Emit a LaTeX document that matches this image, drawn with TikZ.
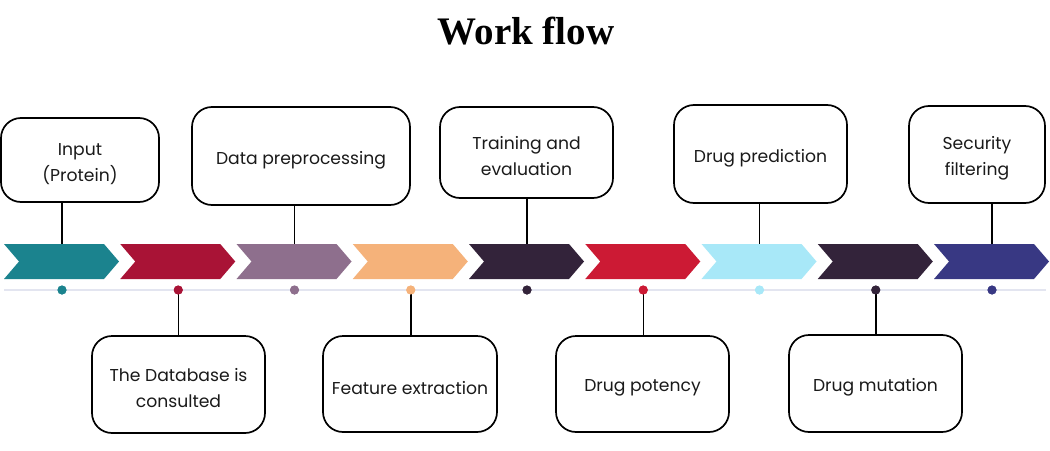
\documentclass[tikz,border=0pt]{standalone}
\usepackage{fontspec}
\setmainfont{Poppins}
\newfontfamily\titlefont{Liberation Serif}
\definecolor{cA}{HTML}{1B838E}
\definecolor{cB}{HTML}{A91336}
\definecolor{cC}{HTML}{8E6F8D}
\definecolor{cD}{HTML}{F5B27A}
\definecolor{cE}{HTML}{33233A}
\definecolor{cF}{HTML}{CC1A34}
\definecolor{cG}{HTML}{A8E8F8}
\definecolor{cH}{HTML}{33233A}
\definecolor{cI}{HTML}{383883}
\definecolor{lineC}{HTML}{E3E5F0}
\definecolor{txt}{HTML}{1A1A1A}
\begin{document}
\begin{tikzpicture}[x=1pt,y=-1pt,
  stepbox/.style={draw=black,line width=1.7pt,rounded corners=20pt,inner sep=0pt},
  steptext/.style={align=center,text=txt,font=\fontsize{17.2}{26}\selectfont,inner sep=0pt,yshift=-4pt},
  link/.style={draw=black,line width=1.5pt},
  dotnode/.style={circle,inner sep=0pt,minimum size=9pt}]
\useasboundingbox (0,0) rectangle (1050,450);
\fill[white] (0,0) rectangle (1050,450);
% title
\node[font=\titlefont\bfseries\fontsize{39}{44}\selectfont,anchor=base] (title) at (526,44) {Work flow};
% timeline
\coordinate (tl0) at (4,290);
\coordinate (tl1) at (1046,290);
\draw[lineC,line width=2pt] (tl0) -- (tl1);
% chevrons and dots
\foreach \c [count=\i from 0] in {cA,cB,cC,cD,cE,cF,cG,cH,cI}{
  \pgfmathsetmacro{\xo}{4+116.25*\i}
  \fill[\c] (\xo,244) -- ++(100,0) -- ++(15,17.5) -- ++(-15,17.5) -- ++(-100,0) -- ++(15,-17.5) -- cycle;
  \coordinate (ct\i) at (\xo+58,244);
  \node[dotnode,fill=\c] (dot\i) at (\xo+58,290) {};
}
% top boxes
\node[stepbox,minimum width=158pt,minimum height=84pt] (bA) at (80,160) {};
\node[stepbox,minimum width=218pt,minimum height=98pt] (bC) at (301,156) {};
\node[stepbox,minimum width=173pt,minimum height=91pt] (bE) at (526.5,152.5) {};
\node[stepbox,minimum width=173pt,minimum height=98pt] (bG) at (760.5,154) {};
\node[stepbox,minimum width=136pt,minimum height=97pt] (bI) at (977,154.5) {};
% bottom boxes
\node[stepbox,minimum width=173pt,minimum height=97pt] (bB) at (178.5,384.5) {};
\node[stepbox,minimum width=174pt,minimum height=96pt] (bD) at (410,384) {};
\node[stepbox,minimum width=173pt,minimum height=96pt] (bF) at (642.5,384) {};
\node[stepbox,minimum width=173pt,minimum height=97pt] (bH) at (875.5,383.5) {};
% texts
\node[steptext] (tA) at (bA.center) {Input\\(Protein)};
\node[steptext] (tC) at (bC.center) {Data preprocessing};
\node[steptext] (tE) at (bE.center) {Training and\\evaluation};
\node[steptext] (tG) at (bG.center) {Drug prediction};
\node[steptext] (tI) at (bI.center) {Security\\filtering};
\node[steptext] (tB) at (bB.center) {The Database is\\consulted};
\node[steptext] (tD) at (bD.center) {Feature extraction};
\node[steptext] (tF) at (bF.center) {Drug potency};
\node[steptext] (tH) at (bH.center) {Drug mutation};
% connectors
\draw[link] (bA.south -| ct0) -- (ct0);
\draw[link] (bC.south -| ct2) -- (ct2);
\draw[link] (bE.south -| ct4) -- (ct4);
\draw[link] (bG.south -| ct6) -- (ct6);
\draw[link] (bI.south -| ct8) -- (ct8);
\draw[link] (dot1.center) -- (bB.north -| dot1);
\draw[link] (dot3.center) -- (bD.north -| dot3);
\draw[link] (dot5.center) -- (bF.north -| dot5);
\draw[link] (dot7.center) -- (bH.north -| dot7);
% redraw dots above connectors
\foreach \c [count=\i from 0] in {cA,cB,cC,cD,cE,cF,cG,cH,cI}{
  \fill[\c] (dot\i) circle (4.5pt);
}
\end{tikzpicture}
\end{document}
